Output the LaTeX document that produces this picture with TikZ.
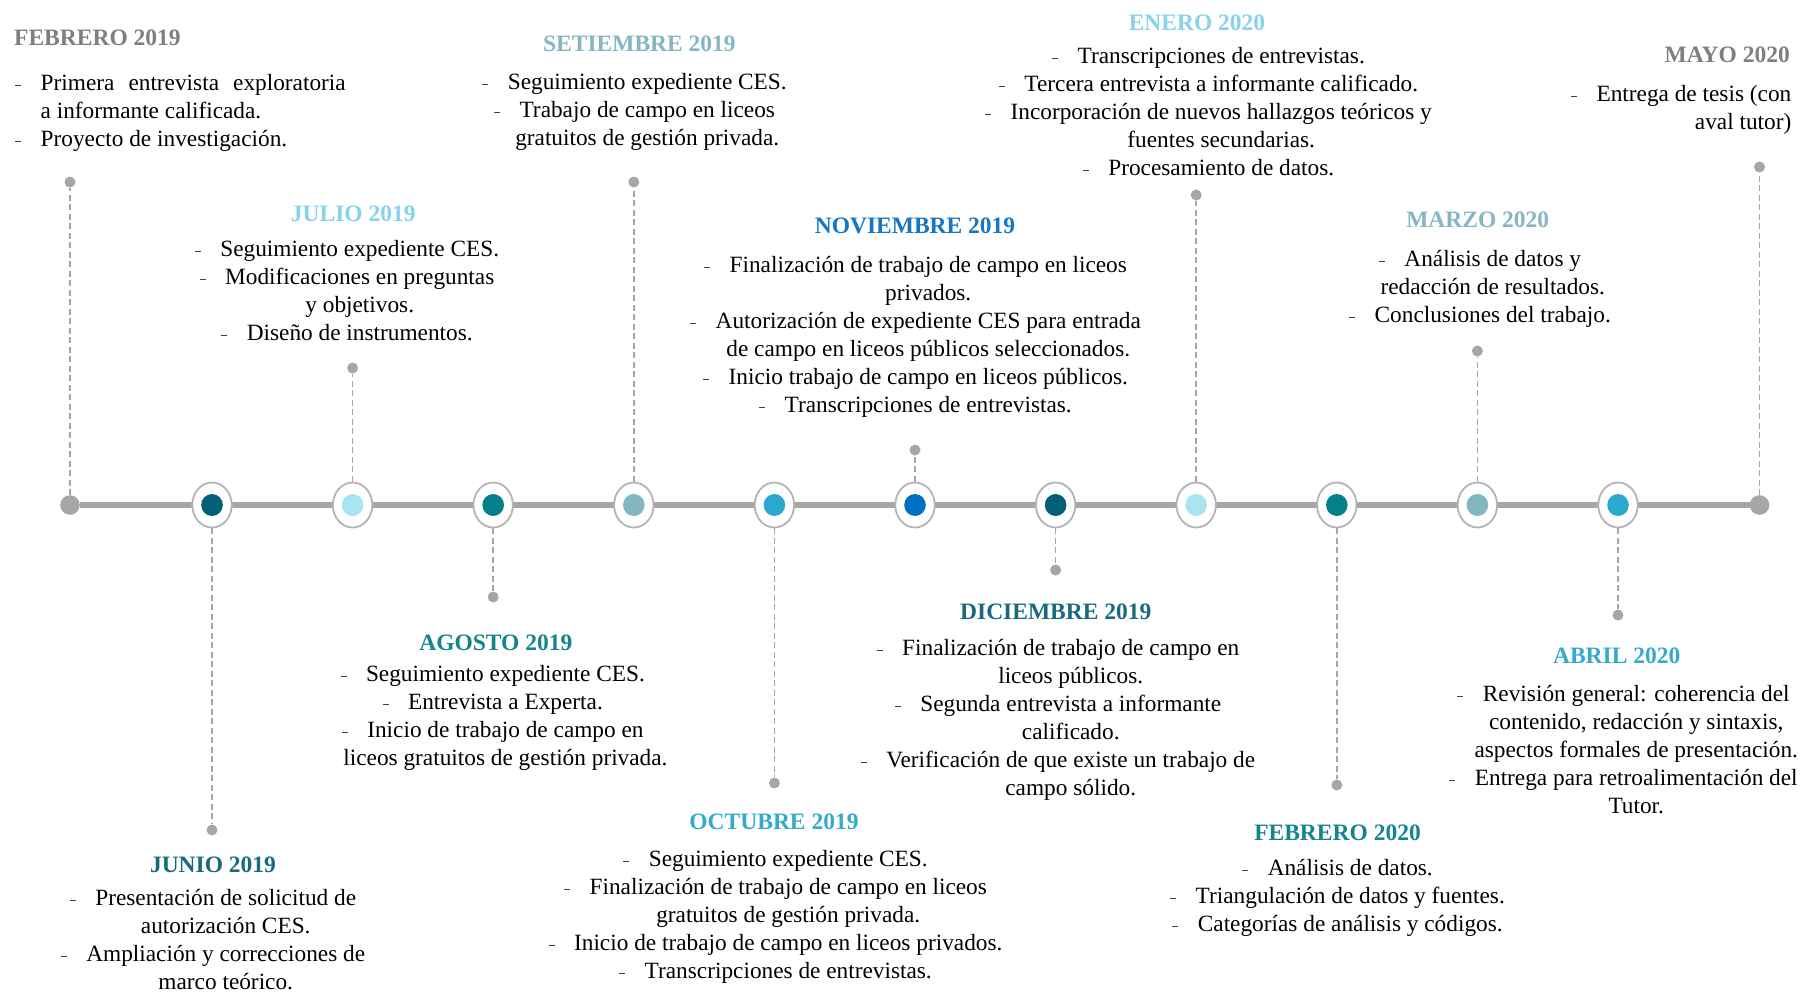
\documentclass[tikz,border=0pt]{standalone}
\usepackage{fontspec}
\setmainfont{Liberation Serif}
\usetikzlibrary{shapes.geometric}
\definecolor{lineg}{HTML}{A6A6A6}
\definecolor{ringg}{HTML}{B4B4B4}
\definecolor{tgray}{HTML}{7F7F7F}
\definecolor{cdark}{HTML}{035E78}
\definecolor{tdark}{HTML}{1A6A7E}
\definecolor{cteal}{HTML}{04808C}
\definecolor{tteal}{HTML}{14848F}
\definecolor{clight}{HTML}{A9E4F3}
\definecolor{tlight}{HTML}{86D3EC}
\definecolor{cgb}{HTML}{82B6C0}
\definecolor{tgb}{HTML}{86B6C2}
\definecolor{ccyan}{HTML}{2BA8CD}
\definecolor{tcyan}{HTML}{34AACD}
\definecolor{cblue}{HTML}{0070C0}
\definecolor{tblue}{HTML}{1476C4}
\definecolor{bulc}{HTML}{404040}
\newcommand{\tlbul}{\makebox[25.5pt][l]{\textcolor{bulc}{\rule[4.5pt]{6pt}{1.2pt}}}}
\newcommand{\tlnobul}{\hphantom{\tlbul}}
\newcommand{\tlfst}{\rule{0pt}{22pt}}
\newcommand{\tltitle}{\fontsize{23.5}{28}\selectfont\bfseries}
\newcommand{\tlbody}{\fontsize{23.3}{28}\selectfont}
\tikzset{
 mainline/.style={draw=lineg, line width=6.5pt},
 ring/.style={ellipse, draw=ringg, line width=1.8pt, fill=white, minimum width=39.5pt, minimum height=45pt, inner sep=0pt},
 core/.style={ellipse, minimum width=21.6pt, minimum height=22pt, inner sep=0pt},
 enddot/.style={circle, fill=lineg, minimum size=19.6pt, inner sep=0pt},
 tipdot/.style={circle, fill=lineg, minimum size=11pt, inner sep=0pt},
 conn/.style={draw=lineg, line width=1.5pt, dash pattern=on 6pt off 3.5pt},
 ttl/.style={font=\tltitle, inner sep=0pt, anchor=base},
 body/.style={font=\tlbody, inner sep=0pt, align=center, anchor=north},
}
\begin{document}
\begin{tikzpicture}[x=1pt,y=-1pt]
\fill[white] (0,0) rectangle (1803,991);
\useasboundingbox (0,0) rectangle (1803,991);
% timeline ends and main line
\node[enddot] (e0) at (70,505) {};
\node[enddot] (e12) at (1759.5,505) {};
\draw[mainline] (e0) -- (e12);
% month markers
\foreach \i/\x/\col in {1/212/cdark, 2/352.6/clight, 3/493.2/cteal, 4/633.8/cgb, 5/774.4/ccyan, 6/915/cblue, 7/1055.6/cdark, 8/1196.2/clight, 9/1336.8/cteal, 10/1477.4/cgb, 11/1618/ccyan}{
  \node[ring] (c\i) at (\x,505) {};
  \node[core, fill=\col] (k\i) at (\x,505) {};
}
% tip dots
\node[tipdot] (d0) at (70,182) {};
\node[tipdot] (d1) at (212,830) {};
\node[tipdot] (d2) at (352.6,368) {};
\node[tipdot] (d3) at (493.2,597) {};
\node[tipdot] (d4) at (633.8,182) {};
\node[tipdot] (d5) at (774.4,783) {};
\node[tipdot] (d6) at (915,450) {};
\node[tipdot] (d7) at (1055.6,570) {};
\node[tipdot] (d8) at (1196.2,195) {};
\node[tipdot] (d9) at (1336.8,785) {};
\node[tipdot] (d10) at (1477.4,351) {};
\node[tipdot] (d11) at (1618,615) {};
\node[tipdot] (d12) at (1759.5,167) {};
% dashed connectors
\draw[conn] (e0) -- (d0);
\foreach \i in {1,...,11}{ \draw[conn] (c\i) -- (d\i); }
\draw[conn] (e12) -- (d12);
% FEBRERO 2019
\node[ttl, anchor=base west, text=tgray] (t0) at (14,45) {FEBRERO 2019};
\node[body, align=left, anchor=north west] (b0) at (15,68.7) {\tlfst\tlbul\makebox[305pt][s]{Primera entrevista exploratoria}\\
\tlnobul a informante calificada.\\
\tlbul Proyecto de investigación.};
% JUNIO 2019
\node[ttl, text=tdark] (t1) at (213,872.3) {JUNIO 2019};
\node[body] (b1) at (213,883) {\tlfst\tlbul Presentación de solicitud de\\ \tlnobul autorización CES.\\ \tlbul Ampliación y correcciones de\\ \tlnobul marco teórico.};
% JULIO 2019
\node[ttl, text=tlight] (t2) at (353.3,221.7) {JULIO 2019};
\node[body] (b2) at (347,234.7) {\tlfst\tlbul Seguimiento expediente CES.\\ \tlbul Modificaciones en preguntas\\ \tlnobul y objetivos.\\ \tlbul Diseño de instrumentos.};
% AGOSTO 2019
\node[ttl, text=tteal] (t3) at (495.8,650) {AGOSTO 2019};
\node[body] (b3) at (492.7,659.7) {\tlfst\tlbul Seguimiento expediente CES.\\ \tlbul Entrevista a Experta.\\ \tlbul Inicio de trabajo de campo en\\ \tlnobul liceos gratuitos de gestión privada.};
% SETIEMBRE 2019
\node[ttl, text=tgb] (t4) at (639.4,51.5) {SETIEMBRE 2019};
\node[body] (b4) at (634.5,67.7) {\tlfst\tlbul Seguimiento expediente CES.\\ \tlbul Trabajo de campo en liceos\\ \tlnobul gratuitos de gestión privada.};
% OCTUBRE 2019
\node[ttl, text=tcyan] (t5) at (774,829.3) {OCTUBRE 2019};
\node[body] (b5) at (775.5,844.7) {\tlfst\tlbul Seguimiento expediente CES.\\ \tlbul Finalización de trabajo de campo en liceos\\ \tlnobul gratuitos de gestión privada.\\ \tlbul Inicio de trabajo de campo en liceos privados.\\ \tlbul Transcripciones de entrevistas.};
% NOVIEMBRE 2019
\node[ttl, text=tblue] (t6) at (915,233.3) {NOVIEMBRE 2019};
\node[body] (b6) at (915.5,250.7) {\tlfst\tlbul Finalización de trabajo de campo en liceos\\ \tlnobul privados.\\ \tlbul Autorización de expediente CES para entrada\\ \tlnobul de campo en liceos públicos seleccionados.\\ \tlbul Inicio trabajo de campo en liceos públicos.\\ \tlbul Transcripciones de entrevistas.};
% DICIEMBRE 2019
\node[ttl, text=tdark] (t7) at (1055.8,619.3) {DICIEMBRE 2019};
\node[body] (b7) at (1058,633) {\tlfst\tlbul Finalización de trabajo de campo en\\ \tlnobul liceos públicos.\\ \tlbul Segunda entrevista a informante\\ \tlnobul calificado.\\ \tlbul Verificación de que existe un trabajo de\\ \tlnobul campo sólido.};
% ENERO 2020
\node[ttl, text=tlight] (t8) at (1197,30) {ENERO 2020};
\node[body] (b8) at (1208.5,41.2) {\tlfst\tlbul Transcripciones de entrevistas.\\ \tlbul Tercera entrevista a informante calificado.\\ \tlbul Incorporación de nuevos hallazgos teóricos y\\ \tlnobul fuentes secundarias.\\ \tlbul Procesamiento de datos.};
% FEBRERO 2020
\node[ttl, text=tteal] (t9) at (1337.5,840) {FEBRERO 2020};
\node[body] (b9) at (1337.5,853.5) {\tlfst\tlbul Análisis de datos.\\ \tlbul Triangulación de datos y fuentes.\\ \tlbul Categorías de análisis y códigos.};
% MARZO 2020
\node[ttl, text=tgb] (t10) at (1477.75,227.5) {MARZO 2020};
\node[body] (b10) at (1480,244.75) {\tlfst\tlbul Análisis de datos y\\ \tlnobul redacción de resultados.\\ \tlbul Conclusiones del trabajo.};
% ABRIL 2020
\node[ttl, text=tcyan] (t11) at (1616.7,663.3) {ABRIL 2020};
\node[body] (b11) at (1623.5,679.7) {\tlfst\tlbul Revisión general: coherencia del\\ \tlnobul contenido, redacción y sintaxis,\\ \tlnobul aspectos formales de presentación.\\ \tlbul Entrega para retroalimentación del\\ \tlnobul Tutor.};
% MAYO 2020
\node[ttl, anchor=base east, text=tgray] (t12) at (1790,62) {MAYO 2020};
\node[body, align=right, anchor=north east] (b12) at (1791.5,79) {\tlfst\tlbul Entrega de tesis (con\\ aval tutor)};
\end{tikzpicture}
\end{document}
